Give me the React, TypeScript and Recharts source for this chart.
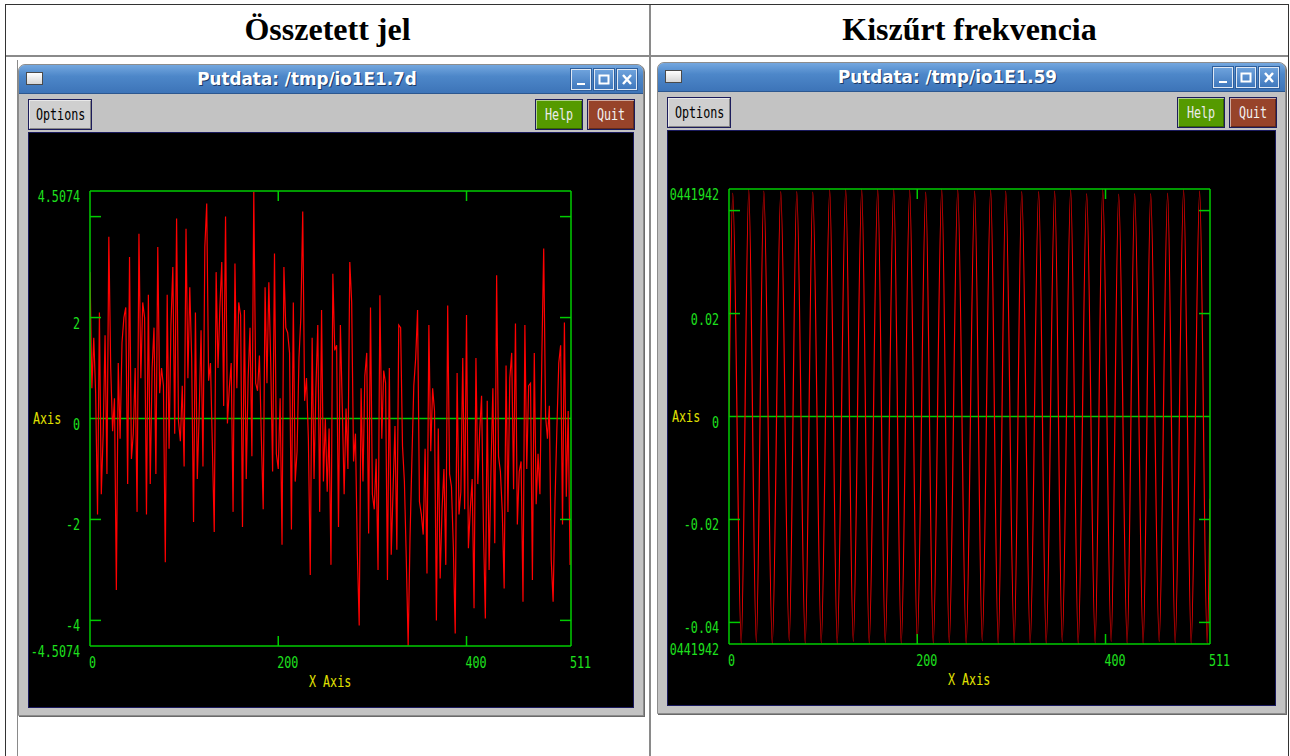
import React from 'react';
import { LineChart, Line, XAxis, YAxis, ReferenceLine } from 'recharts';

// Összetett jel: every second sample (n = 0, 2, 4 ... 510)
const compositeSignal = [
  2.9, 0.6, 1.6, 0.5, -1.9, 2.1, -1.5, -0.3, 1.65, -1.1,
  3.6, 1.0, -0.25, 0.4, -3.4, 1.1, -0.4, 1.5, 2.0, 2.2,
  -1.3, 3.2, -0.8, -0.3, 1.0, -1.85, 3.66, 0.8, 2.3, 2.0,
  -1.9, 2.45, -1.3, 1.0, 1.8, -1.1, 3.4, 0.5, 1.0, 0.65,
  -2.85, 2.45, -0.6, 1.85, 3.0, -0.3, 3.96, -0.05, -0.45, 0.65,
  -0.95, 3.76, 0.8, 2.6, 1.2, -2.05, 2.1, -1.2, 0.1, 1.75,
  -0.95, 3.4, 4.26, 0.75, 1.1, -0.55,
  -2.25, 2.9, 1.0, 2.2, 3.1, 0.25, 4.0, -0.1, 0.6, 1.1,
  -1.85, 3.07, 0.6, 2.3, 2.05, -2.15, 2.15, -1.2, 0.8, 1.8,
  -0.75, 4.49, 0.7, 0.55, 1.25, -0.35, -1.8, 2.6, 0.7, 2.7,
  1.1, -1.05, 3.27, -0.7, -1.0, 0.4, -2.5, 3.0, 1.8, 1.7,
  1.3, -2.2, 2.3, -1.25, -0.65, 1.2, 2.0, 4.1, 0.35, 0.8,
  -0.4, -3.1, 1.6, -1.2, 0.6, 1.85, -1.85, 2.15, -1.25, 0.0,
  -1.45, -0.2, -2.9,
  2.87, 1.35, 1.45, -2.15, 1.85, 0.25, -1.5, 0.2, -1.0, 3.1,
  2.3, -0.85, -0.3, -2.64, -4.1, 0.6, -1.25, 0.85, 1.3, -2.28,
  2.2, -1.5, -1.8, -0.8, -3.0, 2.44, -0.4, 0.95, 0.7, -3.2,
  1.0, -2.7, -1.4, -0.15, -2.6, 1.85, 1.8, -0.55, -1.25, -2.77,
  -4.5, -2.35, -0.8, 0.65, 1.2, 2.15, -1.65, -1.9, -2.3, -0.6,
  -3.07, 1.85, -0.65, 0.6, 0.15, -4.0, -0.2, -3.17, -1.8, -1.0,
  -2.9, 2.24, -1.1,
  -1.35, -2.54, -4.26, 0.9, -1.9, -1.45, 1.2, -1.8, 2.05, -2.57,
  -1.8, -1.2, -3.76, 1.2, -1.3, -0.25, 0.45, -2.2, -3.96, 0.35,
  -3.0, -1.0, 0.6, -2.47, 2.84, -0.75, -1.05, -1.85, -3.37, 1.05,
  -1.85, 0.8, 1.3, -1.4, 1.88, -2.1, -1.05, -0.85, -3.63, 1.85,
  -1.0, 0.65, 0.7, -3.2, 1.3, -1.7, -0.7, -1.5, 1.2, 3.37,
  0.05, -0.4, 0.25, -2.8, -3.63, -1.65, -0.2, 1.1, 1.45, -2.1,
  1.9, -1.55, 0.15, -2.9,
];
const compositeStep = 2;

// Kiszűrt frekvencia: turning points of the filtered wave (sample index, value)
const filteredIndex = [
  0, 4, 13, 21, 29, 37, 46, 55, 64, 72, 81, 89, 98, 107, 115, 124, 132, 141, 149, 158,
  166, 175, 183, 192, 200, 209, 217, 226, 234, 243, 252, 261, 269, 278, 286, 294, 303,
  311, 320, 329, 337, 346, 354, 363, 371, 380, 389, 397, 406, 414, 423, 431, 440, 448,
  457, 466, 474, 483, 491, 500, 508, 511,
];
const filteredSignal = [
  0, 0.0434, -0.0441, 0.0441, -0.0438, 0.0438, -0.0442, 0.0437, -0.0436, 0.0437, -0.0441,
  0.0436, -0.0440, 0.0441, -0.0442, 0.0442, -0.0437, 0.0442, -0.0441, 0.0442, -0.0439,
  0.0442, -0.0442, 0.0440, -0.0437, 0.0436, -0.0441, 0.0442, -0.0440, 0.0441, -0.0442,
  0.0438, -0.0436, 0.0441, -0.0442, 0.0438, -0.0440, 0.0437, -0.0441, 0.0437, -0.0442,
  0.0438, -0.0437, 0.0441, -0.0442, 0.0433, -0.0440, 0.0442, -0.0437, 0.0432, -0.0441,
  0.0433, -0.0442, 0.0433, -0.0437, 0.0434, -0.0440, 0.0441, -0.0442, 0.0438, -0.0441,
  -0.016,
];

const xTicks = [0, 200, 400, 511];
const xMarks = [200, 400];

const compositeTicks = [-4.5074, -4, -2, 0, 2, 4, 4.5074];
const compositeLabels = ['-4.5074', '-4', '-2', '0', '2', '', '4.5074'];
const compositeMarks = [-4, -2, 2, 4];

// the outer labels are cut by the window edge in the original, only "0441942" shows
const filteredTicks = [-0.0441942, -0.04, -0.02, 0, 0.02, 0.04, 0.0441942];
const filteredLabels = ['0441942', '-0.04', '-0.02', '0', '0.02', '', '0441942'];
const filteredMarks = [-0.04, -0.02, 0.02, 0.04];

const compositeData = compositeSignal.map((v, i) => ({ n: i * compositeStep, v }));
const filteredData = filteredIndex.map((n, i) => ({ n, v: filteredSignal[i] }));

const GREEN = '#00cc00';
const LABEL = '#1ee01e';
const YELLOW = '#e0e000';
const RED = '#ff0000';
const MONO = '"DejaVu Sans Mono", monospace';
const SQUEEZE = 0.78;

const FixedText = ({ x, y, anchor = 'start', fill, children }: any) => (
  <text
    transform={`translate(${x},${y}) scale(${SQUEEZE},1)`}
    textAnchor={anchor}
    dominantBaseline="central"
    fontFamily={MONO}
    fontSize={15}
    fill={fill}
  >
    {children}
  </text>
);

const Squeezed = ({ children, color, origin = 'left center' }: any) => (
  <span
    style={{
      display: 'inline-block',
      transform: `scaleX(${SQUEEZE})`,
      transformOrigin: origin,
      fontFamily: MONO,
      fontSize: 15,
      color,
      whiteSpace: 'pre',
    }}
  >
    {children}
  </span>
);

interface ScopeProps {
  data: Array<{ n: number; v: number }>;
  width: number;
  height: number;
  yTicks: number[];
  yLabels: string[];
  yMarks: number[];
  curve: 'linear' | 'monotone';
}

const PLOT_W = 481;
const PLOT_L = 61;

const ScopePlot: React.FC<ScopeProps> = ({ data, width, height, yTicks, yLabels, yMarks, curve }) => {
  // axes take 1px each, so the plot box starts at PLOT_L, 58 and is 481 x 455
  const margin = { top: 57, left: PLOT_L - 1, bottom: 58, right: width - PLOT_L - PLOT_W - 1 };
  const yMax = yTicks[yTicks.length - 1];

  const leftTick = (p: any) => {
    const v = p.payload.value;
    const label = yLabels[yTicks.indexOf(v)];
    return (
      <g>
        {yMarks.includes(v) && <line x1={p.x} x2={p.x + 11} y1={p.y} y2={p.y} stroke={GREEN} strokeWidth={1.5} />}
        {label && (
          <FixedText x={p.x - 10} y={p.y + 6} anchor="end" fill={LABEL}>
            {label}
          </FixedText>
        )}
      </g>
    );
  };
  const rightTick = (p: any) =>
    yMarks.includes(p.payload.value) ? (
      <line x1={p.x - 11} x2={p.x} y1={p.y} y2={p.y} stroke={GREEN} strokeWidth={1.5} />
    ) : (
      <g />
    );
  const bottomTick = (p: any) => (
    <g>
      {xMarks.includes(p.payload.value) && <line x1={p.x} x2={p.x} y1={p.y - 10} y2={p.y} stroke={GREEN} strokeWidth={1.5} />}
      <FixedText x={p.x - 1} y={p.y + 17} fill={LABEL}>
        {String(p.payload.value)}
      </FixedText>
    </g>
  );
  const topTick = (p: any) =>
    xMarks.includes(p.payload.value) ? (
      <line x1={p.x} x2={p.x} y1={p.y} y2={p.y + 10} stroke={GREEN} strokeWidth={1.5} />
    ) : (
      <g />
    );

  return (
    <div style={{ position: 'relative', width, height }}>
      <LineChart width={width} height={height} data={data} margin={margin}>
        <XAxis
          xAxisId="b"
          dataKey="n"
          type="number"
          domain={[0, 511]}
          ticks={xTicks}
          interval={0}
          height={1}
          tickSize={0}
          tickMargin={0}
          tickLine={false}
          axisLine={{ stroke: GREEN, strokeWidth: 1.5 }}
          tick={bottomTick}
          allowDataOverflow
        />
        <XAxis
          xAxisId="t"
          orientation="top"
          dataKey="n"
          type="number"
          domain={[0, 511]}
          ticks={xTicks}
          interval={0}
          height={1}
          tickSize={0}
          tickMargin={0}
          tickLine={false}
          axisLine={{ stroke: GREEN, strokeWidth: 1.5 }}
          tick={topTick}
          allowDataOverflow
        />
        <YAxis
          yAxisId="l"
          type="number"
          domain={[-yMax, yMax]}
          ticks={yTicks}
          interval={0}
          width={1}
          tickSize={0}
          tickMargin={0}
          tickLine={false}
          axisLine={{ stroke: GREEN, strokeWidth: 1.5 }}
          tick={leftTick}
          allowDataOverflow
        />
        <YAxis
          yAxisId="r"
          orientation="right"
          type="number"
          domain={[-yMax, yMax]}
          ticks={yTicks}
          interval={0}
          width={1}
          tickSize={0}
          tickMargin={0}
          tickLine={false}
          axisLine={{ stroke: GREEN, strokeWidth: 1.5 }}
          tick={rightTick}
          allowDataOverflow
        />
        <ReferenceLine xAxisId="b" yAxisId="l" y={0} stroke={GREEN} strokeWidth={1.5} />
        <Line
          xAxisId="b"
          yAxisId="l"
          dataKey="v"
          type={curve}
          stroke={RED}
          strokeWidth={1.2}
          dot={false}
          isAnimationActive={false}
        />
      </LineChart>
      {/* the "Y " of the axis title falls outside the window in the original */}
      <div style={{ position: 'absolute', left: 4, top: 277, lineHeight: '18px' }}>
        <Squeezed color={YELLOW}>Axis</Squeezed>
      </div>
      <div
        style={{
          position: 'absolute',
          left: PLOT_L + PLOT_W / 2 - 100,
          width: 200,
          top: 540,
          textAlign: 'center',
          lineHeight: '18px',
        }}
      >
        <Squeezed color={YELLOW} origin="center">X Axis</Squeezed>
      </div>
    </div>
  );
};

const TitleButton = ({ left, kind }: { left: number; kind: 'min' | 'max' | 'close' }) => (
  <div
    style={{
      position: 'absolute',
      left,
      top: 4,
      width: 20,
      height: 21,
      boxSizing: 'border-box',
      border: '1px solid #dfe8f4',
      outline: '1px solid #2f5f9c',
      background: 'linear-gradient(#6ea2dc, #3f78bd)',
    }}
  >
    <svg width={18} height={19} style={{ position: 'absolute', left: 0, top: 0 }}>
      {kind === 'min' && <rect x={5} y={13} width={8} height={2} fill="#fff" />}
      {kind === 'max' && <rect x={4.5} y={5.5} width={9} height={8} fill="none" stroke="#fff" strokeWidth={2} />}
      {kind === 'close' && <path d="M5 5 L13 14 M13 5 L5 14" stroke="#fff" strokeWidth={2.4} />}
    </svg>
  </div>
);

const ToolButton = ({ left, width, bg, color, children }: any) => (
  <div
    style={{
      position: 'absolute',
      left,
      top: 34,
      width,
      height: 31,
      boxSizing: 'border-box',
      border: '1px solid #1c1c5c',
      background: bg,
      boxShadow: 'inset 1px 1px 0 rgba(255,255,255,0.55), inset -1px -1px 0 rgba(0,0,0,0.35)',
      textAlign: 'center',
      lineHeight: '29px',
    }}
  >
    <Squeezed color={color} origin="center">
      {children}
    </Squeezed>
  </div>
);

const PlotWindow = ({ left, top, width, title, children }: any) => (
  <div
    style={{
      position: 'absolute',
      left,
      top,
      width,
      height: 652,
      boxSizing: 'border-box',
      background: '#c3c3c3',
      border: '1px solid #8c8c8c',
      borderRadius: '7px 7px 0 0',
      boxShadow: '1px 1px 0 #6a6a6a',
    }}
  >
    <div
      style={{
        position: 'absolute',
        left: 0,
        top: 0,
        right: 0,
        height: 28,
        borderRadius: '6px 6px 0 0',
        background: 'linear-gradient(#74a7df, #4d87c9 40%, #3d74b8)',
        borderBottom: '1px solid #2c578f',
      }}
    >
      <div
        style={{
          position: 'absolute',
          left: 7,
          top: 7,
          width: 17,
          height: 13,
          boxSizing: 'border-box',
          border: '1px solid #4a4a4a',
          background: 'linear-gradient(#ffffff, #d6d6d6)',
        }}
      />
      <div
        style={{
          position: 'absolute',
          left: 26,
          right: 74,
          top: 0,
          height: 28,
          lineHeight: '28px',
          textAlign: 'center',
          fontFamily: '"DejaVu Sans", sans-serif',
          fontWeight: 'bold',
          fontSize: 16.8,
          color: '#ffffff',
          textShadow: '1px 1px 0 #1d3a66',
          whiteSpace: 'nowrap',
        }}
      >
        {title}
      </div>
      <TitleButton left={width - 74} kind="min" />
      <TitleButton left={width - 51} kind="max" />
      <TitleButton left={width - 28} kind="close" />
    </div>
    <ToolButton left={9} width={64} bg="#cfcfcf" color="#000">
      Options
    </ToolButton>
    <ToolButton left={width - 110} width={48} bg="#559a00" color="#ececec">
      Help
    </ToolButton>
    <ToolButton left={width - 58} width={48} bg="#97432a" color="#f2f2f2">
      Quit
    </ToolButton>
    <div
      style={{
        position: 'absolute',
        left: 9,
        top: 67,
        width: width - 22,
        height: 574,
        border: '1px solid #1a1a5e',
        background: '#000',
        overflow: 'hidden',
      }}
    >
      {children}
    </div>
  </div>
);

const headerStyle: React.CSSProperties = {
  position: 'absolute',
  top: 4,
  height: 51,
  lineHeight: '51px',
  textAlign: 'center',
  fontFamily: '"Liberation Serif", serif',
  fontWeight: 'bold',
  fontSize: 32,
  color: '#000',
};

export default function App() {
  return (
    <div style={{ position: 'absolute', left: 0, top: 0, width: 1290, height: 756, background: '#fff', overflow: 'hidden' }}>
      {/* table frame */}
      <div style={{ position: 'absolute', left: 5, top: 4, width: 1284, height: 800, boxSizing: 'border-box', border: '1px solid #333' }} />
      <div style={{ position: 'absolute', left: 6, top: 55, width: 1282, height: 2, background: '#8a8a8a' }} />
      <div style={{ position: 'absolute', left: 649, top: 5, width: 2, height: 760, background: '#8a8a8a' }} />
      <div style={{ position: 'absolute', left: 17, top: 60, width: 1, height: 700, background: '#8a8a8a' }} />

      <div style={{ ...headerStyle, left: 6, width: 643 }}>Összetett jel</div>
      <div style={{ ...headerStyle, left: 651, width: 637 }}>Kiszűrt frekvencia</div>

      <PlotWindow left={18} top={64} width={626} title="Putdata: /tmp/io1E1.7d">
        <ScopePlot
          data={compositeData}
          width={604}
          height={572}
          yTicks={compositeTicks}
          yLabels={compositeLabels}
          yMarks={compositeMarks}
          curve="linear"
        />
      </PlotWindow>
      <PlotWindow left={657} top={62} width={629} title="Putdata: /tmp/io1E1.59">
        <ScopePlot
          data={filteredData}
          width={607}
          height={572}
          yTicks={filteredTicks}
          yLabels={filteredLabels}
          yMarks={filteredMarks}
          curve="monotone"
        />
      </PlotWindow>
    </div>
  );
}
